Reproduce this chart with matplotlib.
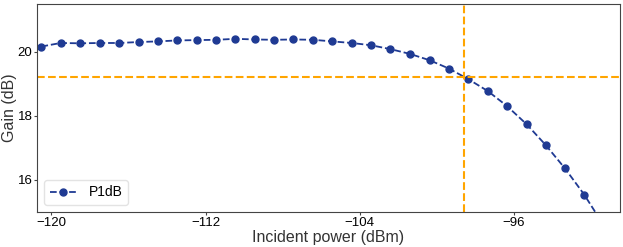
import matplotlib.pyplot as plt

plt.rcParams['font.family'] = ['Liberation Sans', 'DejaVu Sans']

# incident power (dBm) and measured gain (dB)
power = [-120.52, -119.52, -118.52, -117.49, -116.49, -115.47, -114.47,
         -113.46, -112.46, -111.45, -110.45, -109.44, -108.44, -107.44,
         -106.43, -105.43, -104.42, -103.42, -102.42, -101.40, -100.37,
         -99.37, -98.37, -97.36, -96.36, -95.34, -94.35, -93.35, -92.35,
         -91.34]
gain = [20.17, 20.28, 20.27, 20.28, 20.28, 20.31, 20.33, 20.36, 20.37,
        20.38, 20.41, 20.39, 20.38, 20.39, 20.38, 20.33, 20.28, 20.21,
        20.09, 19.94, 19.74, 19.48, 19.15, 18.78, 18.31, 17.74, 17.09,
        16.36, 15.54, 14.58]

p1db_power = -98.59
p1db_gain = 19.22

fig = plt.figure(figsize=(6.23, 2.47), dpi=100)
ax = fig.add_axes([0.0594, 0.142, 0.9356, 0.842])

ax.plot(power, gain, '--o', color='#1f3a93', ms=5, lw=1.3, label='P1dB')
ax.axhline(p1db_gain, color='orange', ls='--', lw=1.5)
ax.axvline(p1db_power, color='orange', ls='--', lw=1.5)

ax.set_xlim(-120.75, -90.5)
ax.set_ylim(15, 21.5)
ax.set_xticks([-120, -112, -104, -96])
ax.set_yticks([16, 18, 20])
ax.tick_params(labelsize=9.5, length=2.5, pad=0.8, color='#444444')
for s in ax.spines.values():
    s.set_color('#444444')

ax.set_xlabel('Incident power (dBm)', fontsize=11.5, color='#333333')
ax.set_ylabel('Gain (dB)', fontsize=11.5, color='#333333')
ax.xaxis.set_label_coords(0.5, -0.085)
ax.yaxis.set_label_coords(-0.035, 0.5)
ax.legend(loc='lower left', fontsize=10, edgecolor='#dddddd')

fig.savefig('out.png')
